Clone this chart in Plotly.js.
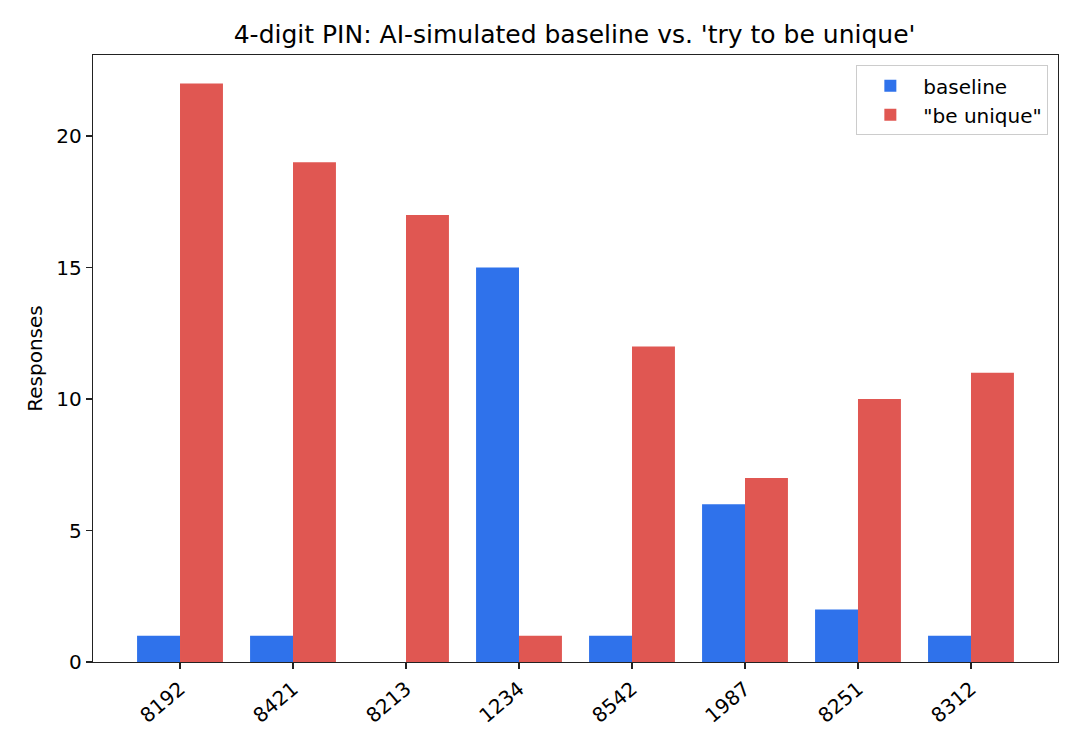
<!DOCTYPE html>
<html>
<head>
<meta charset="utf-8">
<script src="https://cdn.plot.ly/plotly-3.0.1.min.js"></script>
<style>
  html, body { margin: 0; padding: 0; background: white; }
  #chart { width: 1080px; height: 750px; }
</style>
</head>
<body>
<div id="chart"></div>
<script>
const pins = ['8192', '8421', '8213', '1234', '8542', '1987', '8251', '8312'];
const baselineCounts = [1, 1, 0, 15, 1, 6, 2, 1];
const uniqueCounts = [22, 19, 17, 1, 12, 7, 10, 11];

const font = 'DejaVu Sans, sans-serif';

const traces = [
  {
    x: pins,
    y: baselineCounts,
    type: 'bar',
    name: 'baseline',
    marker: { color: '#2f72eb' },
    hovertemplate: '%{x}: %{y}<extra>baseline</extra>'
  },
  {
    x: pins,
    y: uniqueCounts,
    type: 'bar',
    name: '"be unique"',
    marker: { color: '#e05752' },
    hovertemplate: '%{x}: %{y}<extra>be unique</extra>'
  }
];

const layout = {
  width: 1080,
  height: 750,
  barmode: 'group',
  bargap: 0.24,
  bargroupgap: 0,
  title: {
    text: "4-digit PIN: AI-simulated baseline vs. 'try to be unique'",
    font: { family: font, size: 25, color: 'black' },
    x: 0.532,
    xanchor: 'center',
    y: 0.955,
    yanchor: 'middle'
  },
  xaxis: {
    type: 'category',
    range: [-0.77, 7.77],
    tickangle: -40,
    tickfont: { family: font, size: 20, color: 'black' },
    ticks: 'outside',
    ticklen: 6,
    tickwidth: 1.3,
    tickcolor: '#222',
    showline: true,
    linecolor: '#222',
    linewidth: 1.3,
    mirror: true,
    showgrid: false,
    zeroline: false
  },
  yaxis: {
    title: {
      text: 'Responses',
      font: { family: font, size: 20, color: 'black' },
      standoff: 8
    },
    range: [0, 23.08],
    tickvals: [0, 5, 10, 15, 20],
    tickfont: { family: font, size: 20, color: 'black' },
    ticks: 'outside',
    ticklen: 6,
    tickwidth: 1.3,
    tickcolor: '#222',
    showline: true,
    linecolor: '#222',
    linewidth: 1.3,
    mirror: true,
    showgrid: false,
    zeroline: false
  },
  showlegend: true,
  legend: {
    x: 0.99,
    y: 0.983,
    xanchor: 'right',
    yanchor: 'top',
    bgcolor: 'rgba(255,255,255,0.9)',
    bordercolor: '#ccc',
    borderwidth: 1,
    font: { family: font, size: 20, color: 'black' },
    itemwidth: 56,
    traceorder: 'normal'
  },
  margin: { t: 55, r: 22, b: 88, l: 93 },
  plot_bgcolor: 'white',
  paper_bgcolor: 'white'
};

Plotly.newPlot('chart', traces, layout, { displayModeBar: false, staticPlot: true });
</script>
</body>
</html>
